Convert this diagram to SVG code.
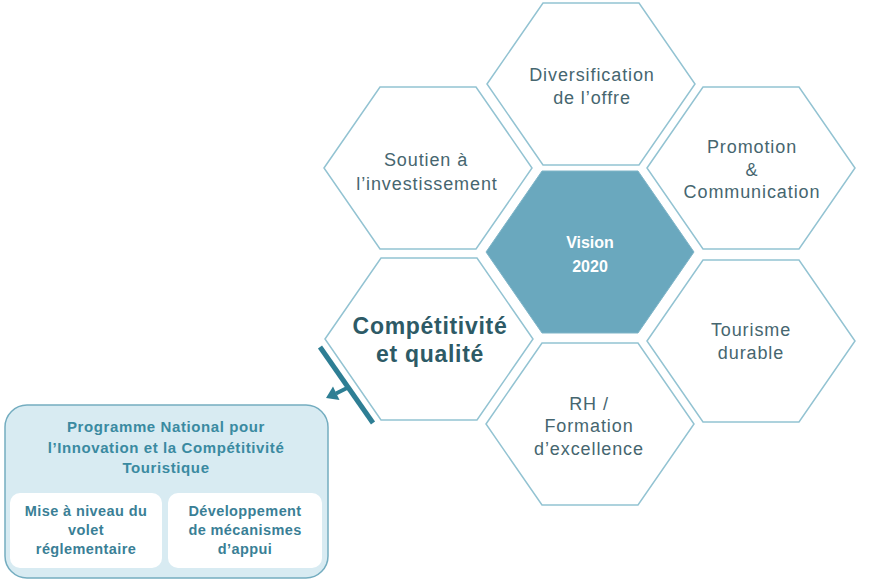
<svg xmlns="http://www.w3.org/2000/svg" width="887" height="583" viewBox="0 0 887 583">
<style>
.hex{fill:#ffffff;stroke:#93c3d2;stroke-width:1.5}
.core{fill:#6aa8be;stroke:#7fb5c8;stroke-width:1}
.ht{font-family:"Liberation Sans",Arial,sans-serif;font-size:18px;letter-spacing:0.9px;fill:#46666f;text-anchor:middle}
.ct{font-family:"Liberation Sans",Arial,sans-serif;font-size:16px;font-weight:bold;fill:#ffffff;text-anchor:middle}
.bt{font-family:"Liberation Sans",Arial,sans-serif;font-size:23px;font-weight:bold;letter-spacing:0.7px;fill:#2d5a66;text-anchor:middle}
.pt{font-family:"Liberation Sans",Arial,sans-serif;font-size:15px;font-weight:bold;letter-spacing:0.6px;fill:#3a8aa1;text-anchor:middle}
.st{font-family:"Liberation Sans",Arial,sans-serif;font-size:14.5px;font-weight:bold;letter-spacing:0.4px;fill:#3a7f96;text-anchor:middle}
</style>
<defs>
<polygon id="hx" points="-104,0 -48,-81 48,-81 104,0 48,81 -48,81"/>
</defs>
<rect width="887" height="583" fill="#ffffff"/>

<g id="diversification">
<use href="#hx" x="591" y="84" class="hex"/>
<text class="ht" x="592" y="81">Diversification</text>
<text class="ht" x="592" y="104">de l’offre</text>
</g>
<g id="soutien">
<use href="#hx" x="428" y="168" class="hex"/>
<text class="ht" x="426" y="166">Soutien à</text>
<text class="ht" x="427" y="190">l’investissement</text>
</g>
<g id="promotion">
<use href="#hx" x="751" y="168" class="hex"/>
<text class="ht" x="752" y="153">Promotion</text>
<text class="ht" x="752" y="176">&amp;</text>
<text class="ht" x="752" y="198">Communication</text>
</g>
<g id="vision">
<use href="#hx" x="590" y="252" class="core"/>
<text class="ct" x="590" y="248">Vision</text>
<text class="ct" x="590" y="272">2020</text>
</g>
<g id="competitivite">
<use href="#hx" x="429" y="339" class="hex"/>
<text class="bt" x="430" y="334">Compétitivité</text>
<text class="bt" x="430" y="362">et qualité</text>
</g>
<g id="tourisme">
<use href="#hx" x="751" y="341" class="hex"/>
<text class="ht" x="751" y="336">Tourisme</text>
<text class="ht" x="751" y="359">durable</text>
</g>
<g id="rh">
<use href="#hx" x="590" y="424" class="hex"/>
<text class="ht" x="589" y="410">RH /</text>
<text class="ht" x="589" y="432">Formation</text>
<text class="ht" x="589" y="455">d’excellence</text>
</g>

<g id="connectors">
<line x1="320" y1="347" x2="373" y2="423" stroke="#2e7e94" stroke-width="5"/>
<line x1="347" y1="388" x2="336" y2="393.5" stroke="#2e7e94" stroke-width="4"/>
<polygon points="326,398 333,386.5 339.5,400" fill="#2e7e94"/>
</g>

<g id="programme">
<rect x="5" y="405" width="323" height="173" rx="22" ry="22" fill="#d8ebf2" stroke="#74adc0" stroke-width="1.5"/>
<text class="pt" x="166" y="432">Programme National pour</text>
<text class="pt" x="166" y="453">l’Innovation et la Compétitivité</text>
<text class="pt" x="166" y="473">Touristique</text>
</g>
<g id="mise">
<rect x="10" y="493" width="152" height="75" rx="10" ry="10" fill="#ffffff"/>
<text class="st" x="86" y="516">Mise à niveau du</text>
<text class="st" x="86" y="535">volet</text>
<text class="st" x="86" y="554">réglementaire</text>
</g>
<g id="developpement">
<rect x="168" y="493" width="154" height="75" rx="10" ry="10" fill="#ffffff"/>
<text class="st" x="245" y="516">Développement</text>
<text class="st" x="245" y="535">de mécanismes</text>
<text class="st" x="245" y="554">d’appui</text>
</g>
</svg>
